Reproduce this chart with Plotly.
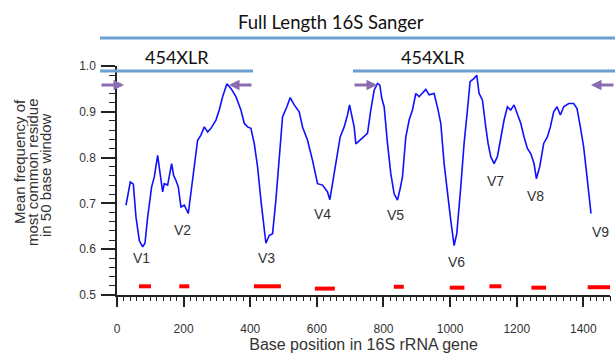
import plotly.graph_objects as go

# ---- data ----
position = [27, 40, 49, 57, 67, 77, 84, 92, 104, 112, 122, 127, 137, 142, 152, 164, 170, 177, 184, 192,
            202, 214, 222, 232, 242, 252, 262, 272, 282, 297, 307, 317, 330, 342, 357, 372, 382, 392, 402,
            412, 422, 432, 447, 457, 467, 477, 487, 497, 510, 520, 532, 547, 557, 572, 587, 602, 617, 632,
            639, 647, 657, 670, 682, 692, 698, 707, 712, 717, 727, 742, 752, 762, 772, 782, 789, 795, 802,
            812, 822, 832, 842, 850, 857, 867, 877, 887, 897, 907, 917, 927, 937, 952, 963, 972, 982, 992,
            1002, 1012, 1020, 1032, 1042, 1052, 1060, 1072, 1080, 1087, 1097, 1107, 1114, 1122, 1132, 1142,
            1152, 1162, 1172, 1182, 1192, 1202, 1212, 1222, 1232, 1242, 1252, 1259, 1269, 1281, 1292, 1301,
            1311, 1321, 1331, 1341, 1356, 1371, 1381, 1391, 1401, 1411, 1423]
frequency = [0.696, 0.747, 0.742, 0.670, 0.619, 0.605, 0.613, 0.670, 0.736, 0.758, 0.805, 0.780, 0.725,
             0.743, 0.740, 0.787, 0.761, 0.750, 0.736, 0.692, 0.696, 0.678, 0.722, 0.780, 0.838, 0.849,
             0.867, 0.856, 0.864, 0.882, 0.904, 0.933, 0.961, 0.951, 0.933, 0.904, 0.875, 0.867, 0.864,
             0.831, 0.780, 0.707, 0.613, 0.630, 0.634, 0.707, 0.794, 0.889, 0.911, 0.931, 0.915, 0.900,
             0.867, 0.838, 0.794, 0.743, 0.740, 0.725, 0.708, 0.743, 0.794, 0.845, 0.867, 0.893, 0.915,
             0.886, 0.867, 0.830, 0.836, 0.845, 0.853, 0.904, 0.947, 0.962, 0.958, 0.929, 0.911, 0.831,
             0.765, 0.721, 0.707, 0.732, 0.758, 0.845, 0.882, 0.904, 0.940, 0.933, 0.940, 0.949, 0.937,
             0.940, 0.907, 0.875, 0.787, 0.721, 0.663, 0.608, 0.634, 0.736, 0.831, 0.904, 0.966, 0.973,
             0.980, 0.940, 0.926, 0.867, 0.831, 0.802, 0.787, 0.802, 0.845, 0.882, 0.911, 0.904, 0.915,
             0.896, 0.875, 0.845, 0.820, 0.809, 0.787, 0.754, 0.780, 0.831, 0.845, 0.867, 0.900, 0.911,
             0.893, 0.911, 0.918, 0.918, 0.907, 0.867, 0.823, 0.758, 0.678]

# red segments (start, end, level)
seg_start = [66, 187, 411, 594, 831, 999, 1118, 1244, 1413]
seg_end = [102, 217, 492, 654, 861, 1043, 1154, 1288, 1482]
seg_level = [0.519, 0.519, 0.519, 0.514, 0.518, 0.516, 0.519, 0.516, 0.517]

region_labels = ["V1", "V2", "V3", "V4", "V5", "V6", "V7", "V8", "V9"]
label_x = [74, 198, 449, 618, 835, 1018, 1135, 1255, 1450]
label_y = [0.580, 0.641, 0.580, 0.677, 0.675, 0.573, 0.750, 0.716, 0.638]

x_tick_vals = [0, 200, 400, 600, 800, 1000, 1200, 1400]
y_tick_vals = [0.5, 0.6, 0.7, 0.8, 0.9, 1.0]
x_minor_step = 20
y_minor_step = 0.02
x_range = [0, 1480]
y_range = [0.5, 1.0]

W, H = 615, 356
L, R, T, B = 117, 5, 66, 61
PW, PH = W - L - R, H - T - B


def px(x):
    return (x - L) / PW


def py(y):
    return (H - B - y) / PH


fig = go.Figure()
fig.add_trace(go.Scatter(x=position, y=frequency, mode="lines",
                         line=dict(color="#1010ff", width=1.6), showlegend=False))

rx, ry = [], []
for s, e, lv in zip(seg_start, seg_end, seg_level):
    rx += [s, e, None]
    ry += [lv, lv, None]
fig.add_trace(go.Scatter(x=rx, y=ry, mode="lines", line=dict(color="#ff0000", width=4),
                         showlegend=False, cliponaxis=False))

# empty trace that hosts the minor-tick overlay axes
fig.add_trace(go.Scatter(x=[None], y=[None], xaxis="x2", yaxis="y2", showlegend=False,
                         hoverinfo="skip"))

for t, xv, yv in zip(region_labels, label_x, label_y):
    fig.add_annotation(x=xv, y=yv, text=t, showarrow=False, xanchor="center", yanchor="middle",
                       font=dict(family="Liberation Sans, Arial", size=14, color="#333333"))

# top coverage bars
bar_col = "#6b9fd1"
for x0, x1, y in [(100, 615, 38), (100, 253, 71), (353, 615, 71)]:
    fig.add_shape(type="line", xref="paper", yref="paper", x0=px(x0), x1=px(x1), y0=py(y), y1=py(y),
                  line=dict(color=bar_col, width=3))

fig.add_annotation(xref="paper", yref="paper", x=px(331), y=py(22), text="Full Length 16S Sanger",
                   showarrow=False, xanchor="center", yanchor="middle",
                   font=dict(family="Lato", size=18.5, color="#111111"))
for cx in [177, 433]:
    fig.add_annotation(xref="paper", yref="paper", x=px(cx), y=py(57), text="454XLR",
                       showarrow=False, xanchor="center", yanchor="middle",
                       font=dict(family="Lato", size=18, color="#111111"))

# primer arrows
arrow_col = "#8a6db0"
for head, tail in [(124, 100), (229, 253), (377, 353), (591, 615)]:
    fig.add_annotation(xref="paper", yref="paper", x=px(head), y=py(85), ax=tail - head, ay=0,
                       text="", showarrow=True, arrowhead=2, arrowsize=0.7, arrowwidth=3,
                       arrowcolor=arrow_col)

# y-axis title lines
for txt, xx, yy in [("Mean frequency of", 19, 162), ("most common residue", 32, 172),
                    ("in 50 base window", 45, 175)]:
    fig.add_annotation(xref="paper", yref="paper", x=px(xx), y=py(yy), text=txt, textangle=-90,
                       showarrow=False, xanchor="center", yanchor="middle",
                       font=dict(family="Liberation Sans, Arial", size=15, color="#333333"))

axis_col = "#222222"
fig.update_layout(
    width=W, height=H, margin=dict(l=L, r=R, t=T, b=B - 6),
    paper_bgcolor="white", plot_bgcolor="white",
    font=dict(family="Liberation Sans, Arial", size=12, color="#333333"),
    xaxis=dict(range=x_range, tickmode="linear", tick0=x_tick_vals[0],
               dtick=x_tick_vals[1] - x_tick_vals[0], showgrid=False, zeroline=False,
               showline=True, linecolor=axis_col, linewidth=1.5,
               ticks="outside", ticklen=10, tickwidth=1.5, tickcolor=axis_col,
               ticklabelstandoff=12,
               title=dict(text="Base position in 16S rRNA gene", font=dict(size=16), standoff=4)),
    yaxis=dict(range=y_range, tickmode="linear", tick0=y_tick_vals[0],
               dtick=round(y_tick_vals[1] - y_tick_vals[0], 3), tickformat=".1f",
               showgrid=False, zeroline=False,
               showline=True, linecolor=axis_col, linewidth=1.5,
               ticks="outside", ticklen=14, tickwidth=1.5, tickcolor=axis_col,
               ticklabelstandoff=3),
    xaxis2=dict(overlaying="x", anchor="y", side="bottom", range=x_range, tickmode="linear",
                tick0=x_tick_vals[0], dtick=x_minor_step, ticks="outside", ticklen=5, tickwidth=1,
                tickcolor=axis_col, showticklabels=False, showgrid=False, zeroline=False,
                showline=False),
    yaxis2=dict(overlaying="y", anchor="x", side="left", range=y_range, tickmode="linear",
                tick0=y_tick_vals[0], dtick=y_minor_step, ticks="outside", ticklen=7, tickwidth=1,
                tickcolor=axis_col, showticklabels=False, showgrid=False, zeroline=False,
                showline=False),
)

fig.write_html("out.html")
